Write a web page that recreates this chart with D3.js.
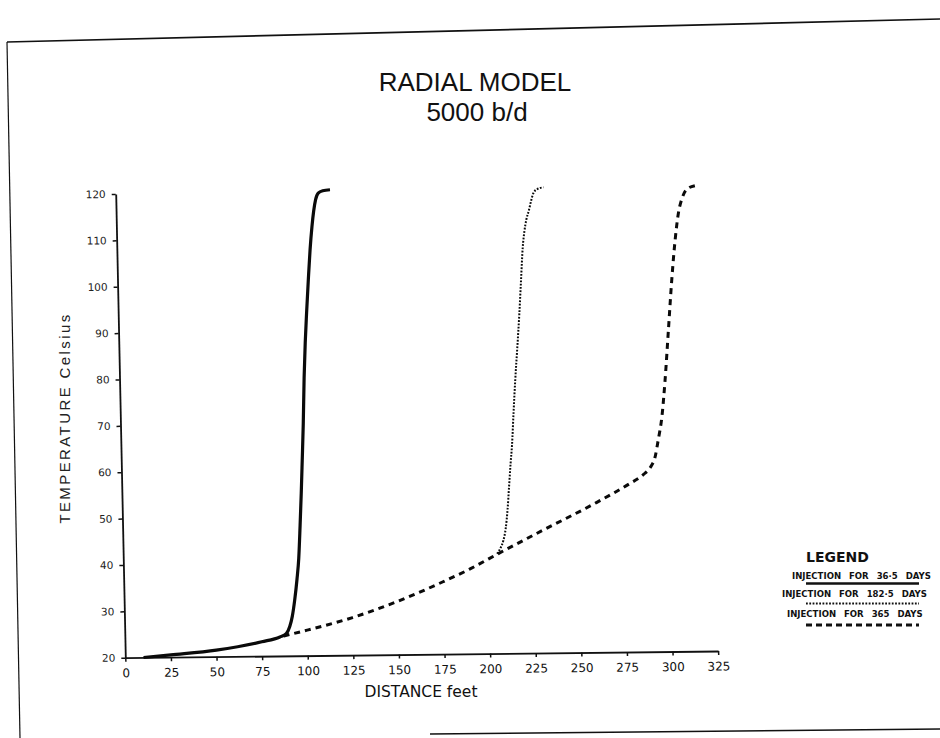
<!DOCTYPE html>
<html>
<head>
<meta charset="utf-8">
<script src="https://cdn.jsdelivr.net/npm/d3@7"></script>
<style>
  body { margin: 0; background: #fff; }
  svg { display: block; }
</style>
</head>
<body>
<div id="chart"></div>
<script>
// values
const xTicks = [0, 25, 50, 75, 100, 125, 150, 175, 200, 225, 250, 275, 300, 325]
const yTicks = [20, 30, 40, 50, 60, 70, 80, 90, 100, 110, 120]

// injection for 36.5 days (solid)
const injection36 = [
  [10, 20], [25, 20.5], [50, 21.4], [75, 23.1], [85, 24.1], [88.5, 24.8], [90.5, 26.3],
  [92, 28.5], [93.5, 32], [95, 36.5], [96.2, 41], [97.3, 48], [98.3, 55], [99.2, 62],
  [100.2, 70], [101.2, 80], [102.2, 87.5], [103.3, 94], [104.6, 101], [105.9, 107.5],
  [107.2, 112.5], [108.3, 115.8], [109.5, 118.3], [111, 119.7], [113.5, 120.2], [117.5, 120.4]
]

// injection for 182.5 days (dotted)
const injection182 = [
  [205, 41.5], [207, 42.8], [208.6, 44.4], [210, 47], [211.2, 51], [212.3, 56], [213.4, 61],
  [214.4, 65], [215.6, 72], [216.9, 79], [218.4, 86], [219.9, 93.3], [221.2, 100.5],
  [222.5, 107.5], [223.6, 111], [224.8, 113.5], [226.3, 115.5], [227.6, 117.5], [229, 119.2],
  [231, 120], [234.5, 120.4]
]

// injection for 365 days (dashed)
const injection365 = [
  [87, 24.3], [100, 25.5], [125, 28.1], [150, 31.5], [175, 35.6], [190, 38.3], [205, 41.4],
  [230, 46.4], [260, 52.3], [278, 56.2], [286, 58.2], [290, 59.8], [292.6, 61.9], [294.5, 65.5],
  [296.8, 70.5], [299, 78.5], [301.4, 89.3], [303.8, 100.1], [306.1, 108.7], [308.2, 114.5],
  [310.5, 117.8], [313, 119.6], [317.7, 120.4]
]

const legendLabels = ["INJECTION FOR 36·5 DAYS", "INJECTION FOR 182·5 DAYS", "INJECTION FOR 365 DAYS"]

const width = 940
const height = 738

// the scan is a little skewed, so the plot sits in a sheared group
const origin = { x: 125.3, y: 657.7 }
const skewX = 0.0207
const skewY = -0.0113

const svg = d3.select('#chart')
  .append('svg')
  .attr('width', width)
  .attr('height', height)

svg.append('rect').attr('width', width).attr('height', height).attr('fill', '#fff')

// page frame of the scanned sheet
const frame = svg.append('g').attr('stroke', '#111').attr('fill', 'none')
frame.append('path').attr('d', 'M7,42 L940,19').attr('stroke-width', 1.6)
frame.append('path').attr('d', 'M7,42 L20,738').attr('stroke-width', 1.2)
frame.append('path').attr('d', 'M430,734 L940,729').attr('stroke-width', 1.6)

// title
const title = svg.append('text')
  .attr('text-anchor', 'middle')
  .attr('font-family', 'Liberation Sans, Arial, sans-serif')
  .attr('font-size', 26)
  .attr('fill', '#111')
title.append('tspan').attr('x', 475).attr('y', 91).text('RADIAL MODEL')
title.append('tspan').attr('x', 477).attr('y', 121).text('5000 b/d')

const plot = svg.append('g')
  .attr('transform', `matrix(1, ${skewY}, ${skewX}, 1, ${origin.x}, ${origin.y})`)

const x = d3.scaleLinear().domain([0, 325]).range([0, 592.8])
const y = d3.scaleLinear().domain([20, 120]).range([0, -463.7])

const xAxis = d3.axisBottom(x).tickValues(xTicks).tickSize(4).tickSizeOuter(0).tickPadding(7)
const yAxis = d3.axisLeft(y).tickValues(yTicks).tickSize(4).tickSizeOuter(0).tickPadding(6)

const gx = plot.append('g').call(xAxis)
gx.select('.domain').attr('stroke', '#111').attr('stroke-width', 1.8)
gx.selectAll('.tick line').attr('stroke', '#111').attr('stroke-width', 1.5)
gx.selectAll('.tick text')
  .attr('font-family', 'DejaVu Sans, sans-serif')
  .attr('font-size', 12)
  .attr('fill', '#111')

const gy = plot.append('g').call(yAxis)
gy.select('.domain').attr('stroke', '#111').attr('stroke-width', 1.8)
gy.selectAll('.tick line').attr('stroke', '#111').attr('stroke-width', 1.5)
gy.selectAll('.tick text')
  .attr('font-family', 'DejaVu Sans, sans-serif')
  .attr('font-size', 10.5)
  .attr('fill', '#222')

// axis titles
svg.append('text')
  .attr('transform', 'translate(70 418) rotate(-90)')
  .attr('text-anchor', 'middle')
  .attr('font-family', 'Liberation Sans, Arial, sans-serif')
  .attr('font-size', 15)
  .attr('letter-spacing', 2.4)
  .attr('fill', '#222')
  .text('TEMPERATURE Celsius')

svg.append('text')
  .attr('x', 421)
  .attr('y', 697)
  .attr('text-anchor', 'middle')
  .attr('font-family', 'DejaVu Sans, sans-serif')
  .attr('font-size', 15.5)
  .attr('fill', '#111')
  .text('DISTANCE feet')

// curves
const line = d3.line()
  .x(d => x(d[0]))
  .y(d => y(d[1]))
  .curve(d3.curveMonotoneX)

const series = [
  { data: injection365, width: 3, dash: '6,5' },
  { data: injection182, width: 2, dash: '1.8,1.5' },
  { data: injection36, width: 3.2, dash: null }
]

plot.selectAll('path.curve')
  .data(series)
  .join('path')
  .attr('class', 'curve')
  .attr('d', d => line(d.data))
  .attr('fill', 'none')
  .attr('stroke', '#0a0a0a')
  .attr('stroke-width', d => d.width)
  .attr('stroke-dasharray', d => d.dash)
  .attr('stroke-linejoin', 'round')

// legend
svg.append('text')
  .attr('x', 806)
  .attr('y', 562)
  .attr('font-family', 'DejaVu Sans, sans-serif')
  .attr('font-weight', 'bold')
  .attr('font-size', 14)
  .attr('fill', '#111')
  .text('LEGEND')

const legendX = [792, 782, 787]
const legendY = [579, 597, 617]
const legendLineY = [583.5, 603.5, 625]
const legendStyles = [
  { width: 2.5, dash: null },
  { width: 2, dash: '1.8,1.5' },
  { width: 3, dash: '6,4' }
]

svg.selectAll('text.legend')
  .data(legendLabels)
  .join('text')
  .attr('class', 'legend')
  .attr('x', (d, i) => legendX[i])
  .attr('y', (d, i) => legendY[i])
  .attr('font-family', 'DejaVu Sans Condensed, DejaVu Sans, sans-serif')
  .attr('font-stretch', 'condensed')
  .attr('font-weight', 'bold')
  .attr('font-size', 9.5)
  .attr('word-spacing', 5)
  .attr('fill', '#111')
  .text(d => d)

svg.selectAll('line.legend')
  .data(legendStyles)
  .join('line')
  .attr('class', 'legend')
  .attr('x1', 806)
  .attr('x2', 919)
  .attr('y1', (d, i) => legendLineY[i])
  .attr('y2', (d, i) => legendLineY[i])
  .attr('stroke', '#111')
  .attr('stroke-width', d => d.width)
  .attr('stroke-dasharray', d => d.dash)
</script>
</body>
</html>
